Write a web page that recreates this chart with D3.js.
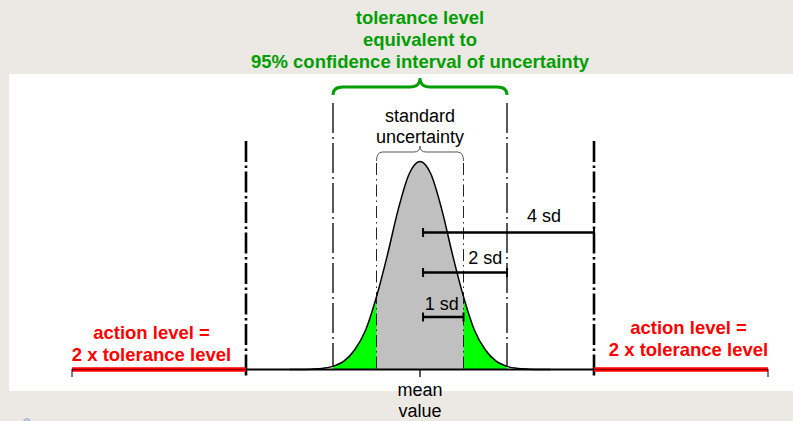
<!doctype html>
<html lang="en">
<head>
<meta charset="utf-8" />
<title>Tolerance and action levels</title>
<script src="https://d3js.org/d3.v7.min.js"></script>
<style>
  html, body { margin: 0; padding: 0; background: #ecE9e4; }
  svg { display: block; font-family: "Liberation Sans", Arial, sans-serif; }
</style>
</head>
<body>
<div id="chart"></div>
<script>
// ---- data (x in units of standard deviation, mean = 0) ----
const curveX = [-3, -2.75, -2.5, -2.25, -2, -1.75, -1.5, -1.25, -1, -0.75, -0.5, -0.25, 0,
                0.25, 0.5, 0.75, 1, 1.25, 1.5, 1.75, 2, 2.25, 2.5, 2.75, 3];
const curveY = [0, 0, 0.0015, 0.005, 0.015, 0.04, 0.095, 0.19, 0.35, 0.55, 0.77, 0.94, 1,
                0.94, 0.77, 0.55, 0.35, 0.19, 0.095, 0.04, 0.015, 0.005, 0.0015, 0, 0];
const sdMarks = [1, 2, 4];
const sdLabels = ["1 sd", "2 sd", "4 sd"];
const axisExtent = [-8, 8];
const greenBand = [-2, 2];
const greyBand = [-1, 1];
const titleLines = ["tolerance level", "equivalent to", "95% confidence interval of uncertainty"];
const stdLines = ["standard", "uncertainty"];
const actionLines = ["action level =", "2 x tolerance level"];
const meanLines = ["mean", "value"];

// ---- layout ----
const W = 793, H = 421;
const svg = d3.select("#chart").append("svg").attr("width", W).attr("height", H);

svg.append("rect").attr("width", W).attr("height", H).attr("fill", "#ece9e4");
svg.append("rect").attr("x", 9).attr("y", 74).attr("width", W - 9).attr("height", 317).attr("fill", "#ffffff");
// little decoration in the bottom-left corner
svg.append("circle").attr("cx", 27).attr("cy", 422).attr("r", 4).attr("fill", "#b9c0d6");

const x = d3.scaleLinear().domain(axisExtent).range([72, 768]);
const y = d3.scaleLinear().domain([0, 1]).range([369.5, 161.5]);

const pts = curveX.map((v, i) => [v, curveY[i]]);

const defs = svg.append("defs");
function clipBand(id, band) {
  defs.append("clipPath").attr("id", id)
    .append("rect")
    .attr("x", x(band[0])).attr("y", 0)
    .attr("width", x(band[1]) - x(band[0])).attr("height", H);
}
clipBand("clipGreen", greenBand);
clipBand("clipGrey", greyBand);

const area = d3.area().x(d => x(d[0])).y0(y(0)).y1(d => y(d[1])).curve(d3.curveMonotoneX);
const line = d3.line().x(d => x(d[0])).y(d => y(d[1])).curve(d3.curveMonotoneX);

svg.append("path").attr("d", area(pts)).attr("fill", "#00ff00").attr("clip-path", "url(#clipGreen)");
svg.append("path").attr("d", area(pts)).attr("fill", "#c0c0c0").attr("clip-path", "url(#clipGrey)");

// ---- dash-dot verticals ----
const vStyle = {
  1: { top: 163, bottom: 369, w: 1, dash: "12,4,1.5,4", col: "#222" },
  2: { top: 103, bottom: 366, w: 1.4, dash: "30,4,2,4", col: "#111" },
  4: { top: 141, bottom: 378, w: 2.6, dash: "21,3.5,2.5,3.5", col: "#000" }
};
sdMarks.forEach(k => {
  const s = vStyle[k];
  [-k, k].forEach(v => {
    svg.append("line")
      .attr("x1", x(v)).attr("x2", x(v))
      .attr("y1", s.top).attr("y2", s.bottom)
      .attr("stroke", s.col).attr("stroke-width", s.w)
      .attr("stroke-dasharray", s.dash);
  });
});

// curve outline
svg.append("path").attr("d", line(pts)).attr("fill", "none").attr("stroke", "#000").attr("stroke-width", 1.5);

// ---- baseline and action level segments ----
svg.append("line").attr("x1", x(axisExtent[0])).attr("x2", x(axisExtent[1]))
  .attr("y1", 369.5).attr("y2", 369.5).attr("stroke", "#000").attr("stroke-width", 2);
[[axisExtent[0], -4], [4, axisExtent[1]]].forEach(seg => {
  svg.append("line").attr("x1", x(seg[0])).attr("x2", x(seg[1]))
    .attr("y1", 369.5).attr("y2", 369.5).attr("stroke", "#ff0000").attr("stroke-width", 4.5);
  svg.append("line").attr("x1", x(seg[0])).attr("x2", x(seg[1]))
    .attr("y1", 369.5).attr("y2", 369.5).attr("stroke", "#400").attr("stroke-width", 1).attr("opacity", 0.6);
});
[axisExtent[0], axisExtent[1]].forEach(v => {
  svg.append("line").attr("x1", x(v)).attr("x2", x(v)).attr("y1", 369).attr("y2", 377)
    .attr("stroke", "#000").attr("stroke-width", 1);
});
// mean tick
svg.append("line").attr("x1", x(0)).attr("x2", x(0)).attr("y1", 369).attr("y2", 377)
  .attr("stroke", "#000").attr("stroke-width", 1.3);

// ---- sd bars ----
const barY = [317, 272.5, 232.5];
const labelX = [0.5, 1.5, 2.85];
const labelDy = [-7, -8.5, -10.5];
sdMarks.forEach((k, i) => {
  const g = svg.append("g").attr("stroke", "#000");
  g.append("line").attr("x1", x(0.07)).attr("x2", x(k)).attr("y1", barY[i]).attr("y2", barY[i]).attr("stroke-width", 2.5);
  g.append("line").attr("x1", x(0.07)).attr("x2", x(0.07)).attr("y1", barY[i] - 4.5).attr("y2", barY[i] + 4.5).attr("stroke-width", 2);
  g.append("line").attr("x1", x(k)).attr("x2", x(k)).attr("y1", barY[i] - 4.5).attr("y2", barY[i] + 4.5).attr("stroke-width", 2);
  svg.append("text").attr("x", x(labelX[i])).attr("y", barY[i] + labelDy[i])
    .attr("text-anchor", "middle").attr("font-size", 18).attr("fill", "#000").text(sdLabels[i]);
});

// ---- braces ----
function brace(x0, x1, yb, ym, yt, r) {
  const xc = (x0 + x1) / 2;
  return `M${x0},${yb} Q${x0},${ym} ${x0 + r},${ym} L${xc - r},${ym} Q${xc},${ym} ${xc},${yt}` +
         ` Q${xc},${ym} ${xc + r},${ym} L${x1 - r},${ym} Q${x1},${ym} ${x1},${yb}`;
}
svg.append("path").attr("d", brace(x(-2), x(2), 95, 87, 78, 10))
  .attr("fill", "none").attr("stroke", "#009e00").attr("stroke-width", 2.8);
svg.append("path").attr("d", brace(x(-1), x(1), 161, 152, 146, 6))
  .attr("fill", "none").attr("stroke", "#555").attr("stroke-width", 1);

// ---- text ----
titleLines.forEach((t, i) => {
  svg.append("text").attr("x", x(0)).attr("y", 24 + i * 22).attr("text-anchor", "middle")
    .attr("font-size", 18.5).attr("font-weight", "bold").attr("fill", "#009e00").text(t);
});
stdLines.forEach((t, i) => {
  svg.append("text").attr("x", x(0)).attr("y", 122 + i * 21).attr("text-anchor", "middle")
    .attr("font-size", 18).attr("fill", "#000").text(t);
});
meanLines.forEach((t, i) => {
  svg.append("text").attr("x", x(0)).attr("y", 396 + i * 21).attr("text-anchor", "middle")
    .attr("font-size", 18).attr("fill", "#000").text(t);
});
const actionPos = [{ cx: 151.5, y0: 339 }, { cx: 688.5, y0: 334 }];
actionPos.forEach(p => {
  actionLines.forEach((t, i) => {
    svg.append("text").attr("x", p.cx).attr("y", p.y0 + i * 22).attr("text-anchor", "middle")
      .attr("font-size", 18.5).attr("font-weight", "bold").attr("fill", "#ff0000").text(t);
  });
});
</script>
</body>
</html>
